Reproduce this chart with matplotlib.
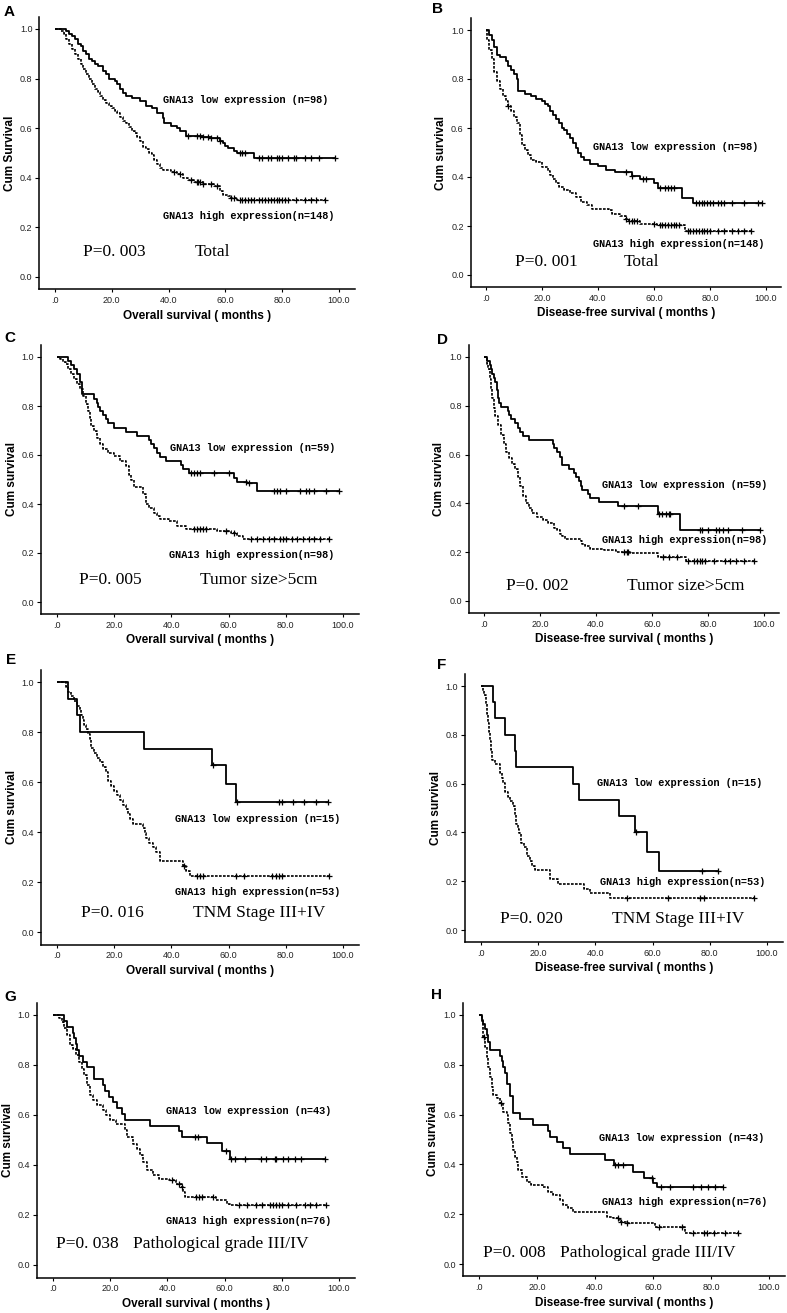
import numpy as np
import matplotlib
matplotlib.use("Agg")
import matplotlib.pyplot as plt

# ---- Kaplan-Meier curves: event times (months),
# survival after each event, and censoring times ----

# A: overall survival, total
A_LOW_T = [4, 5, 6, 7, 8, 9, 10, 11, 12, 13, 14, 15, 17, 18, 19, 21, 22, 23, 24, 25, 27,
           30, 32, 34, 36, 38, 38.5, 41, 43, 44, 46, 52, 55, 58, 59, 60, 61, 63, 64, 70]
A_LOW_S = [0.99, 0.98, 0.97, 0.96, 0.94, 0.93, 0.91, 0.90, 0.88, 0.87, 0.86, 0.85, 0.83, 0.82,
           0.80, 0.79, 0.78, 0.76, 0.74, 0.73, 0.72, 0.71, 0.69, 0.68, 0.66, 0.64, 0.62, 0.61,
           0.60, 0.59, 0.57, 0.565, 0.56, 0.55, 0.54, 0.53, 0.52, 0.51, 0.50, 0.48]
A_LOW_C = [47, 50, 51, 52, 54, 55, 57, 58, 65, 66, 67, 72, 73, 75, 76, 78, 79, 80, 82, 84,
           85, 88, 90, 93, 98.5]
A_HIGH_T = [2, 3, 4, 5, 6, 7, 8, 9, 10, 11, 12, 13, 14, 15, 16, 17, 18, 19, 20, 21, 22, 23,
            24, 25, 26, 27, 28, 29, 30, 31, 32, 33, 34, 35, 36, 37, 38, 41, 43, 45, 47, 49,
            52, 56, 58, 59, 61, 62, 64]
A_HIGH_S = [0.99, 0.98, 0.96, 0.94, 0.92, 0.90, 0.88, 0.86, 0.84, 0.82, 0.80, 0.78, 0.76,
            0.745, 0.73, 0.715, 0.70, 0.69, 0.68, 0.67, 0.66, 0.645, 0.63, 0.62, 0.605, 0.59,
            0.58, 0.565, 0.55, 0.525, 0.515, 0.50, 0.49, 0.47, 0.455, 0.44, 0.43, 0.425,
            0.415, 0.40, 0.39, 0.385, 0.375, 0.365, 0.345, 0.33, 0.325, 0.32, 0.31]
A_HIGH_C = [42, 44, 48, 50, 50.5, 51, 52, 55, 57, 62, 63, 65, 66, 67, 68, 69, 70, 72, 73, 74,
            75, 76, 77, 78, 79, 80, 81, 82, 85, 88, 90, 92, 95]

# B: disease-free survival, total
B_LOW_T = [1, 2, 3, 4, 5, 7, 8, 9, 10, 11, 11.5, 14, 16, 18, 20, 21, 22, 23, 24, 25, 26, 27,
           28, 29, 30, 31, 32, 33, 34, 35, 37, 40, 43, 46, 52, 55, 60, 61.5, 70, 74]
B_LOW_S = [0.98, 0.96, 0.93, 0.90, 0.89, 0.875, 0.855, 0.835, 0.82, 0.80, 0.75, 0.74, 0.73,
           0.72, 0.71, 0.70, 0.69, 0.67, 0.655, 0.635, 0.62, 0.60, 0.59, 0.575, 0.56, 0.54,
           0.52, 0.50, 0.48, 0.47, 0.455, 0.445, 0.43, 0.42, 0.405, 0.39, 0.375, 0.355,
           0.315, 0.295]
B_LOW_C = [50, 52, 56, 57, 62, 64, 65, 66, 67, 75, 76, 77, 78, 79, 80, 81, 83, 84, 85, 88,
           92, 97, 98.5]
B_HIGH_T = [0.5, 1, 2, 3, 4, 5, 6, 7, 8, 9, 10, 11, 12, 13, 14, 15, 16, 18, 20, 22, 23, 24,
            25, 26, 28, 30, 32, 34, 36, 38, 44, 45, 48, 50, 51, 55, 61, 71]
B_HIGH_S = [0.96, 0.92, 0.88, 0.83, 0.79, 0.76, 0.73, 0.71, 0.69, 0.67, 0.645, 0.62, 0.57,
            0.53, 0.51, 0.49, 0.47, 0.46, 0.44, 0.425, 0.41, 0.39, 0.375, 0.36, 0.345, 0.335,
            0.32, 0.30, 0.285, 0.27, 0.265, 0.25, 0.24, 0.23, 0.22, 0.21, 0.205, 0.18]
B_HIGH_C = [8, 50, 51, 52, 53, 54, 60, 62, 63, 64, 65, 66, 67, 68, 69, 72, 73, 74, 75, 76,
            77, 78, 79, 80, 83, 85, 88, 90, 92, 94.5]

# C: overall survival, tumor size > 5 cm
C_LOW_T = [4, 5, 6, 7, 8, 8.7, 8.9, 13, 14, 14.5, 15, 16, 17, 18, 20, 24, 28, 32, 33, 34,
           35, 36, 38, 43.5, 44, 46, 62, 63, 66.5, 70]
C_LOW_S = [0.983, 0.966, 0.949, 0.932, 0.898, 0.864, 0.847, 0.83, 0.813, 0.796, 0.78, 0.763,
           0.746, 0.729, 0.712, 0.695, 0.678, 0.661, 0.644, 0.627, 0.61, 0.593, 0.576, 0.559,
           0.542, 0.525, 0.508, 0.49, 0.485, 0.455]
C_LOW_C = [47, 48, 49, 50, 55, 60, 66, 67, 76, 77, 78, 80, 85, 87, 88, 90, 94, 98.5]
C_HIGH_T = [1, 2, 3, 4, 5, 6, 7, 8, 9, 10, 11, 11.5, 12, 13, 14, 15, 16, 18, 20, 22, 24, 25,
            26, 27, 30, 31, 32, 34, 35, 36, 39, 42, 45, 56, 61, 63, 65]
C_HIGH_S = [0.99, 0.98, 0.97, 0.95, 0.93, 0.91, 0.89, 0.87, 0.84, 0.81, 0.78, 0.75, 0.72,
            0.70, 0.67, 0.645, 0.625, 0.61, 0.595, 0.575, 0.555, 0.52, 0.50, 0.47, 0.44, 0.40,
            0.385, 0.365, 0.35, 0.34, 0.33, 0.31, 0.30, 0.29, 0.28, 0.27, 0.258]
C_HIGH_C = [48, 49, 50, 51, 52, 59, 62, 68, 70, 72, 74, 76, 78, 79, 80, 82, 84, 86, 88, 90,
            92, 95]

# D: disease-free survival, tumor size > 5 cm
D_LOW_T = [1, 2, 2.5, 3, 3.5, 4, 4.5, 5, 5.5, 6, 8.5, 9, 9.5, 11, 12, 13, 14, 16, 24.5, 25,
           26, 27, 28, 30.5, 32, 33, 34, 34.5, 35, 37, 38, 41, 48, 62, 70]
D_LOW_S = [0.983, 0.966, 0.949, 0.932, 0.915, 0.898, 0.864, 0.83, 0.813, 0.796, 0.779, 0.762,
           0.745, 0.728, 0.711, 0.694, 0.677, 0.66, 0.643, 0.626, 0.609, 0.592, 0.558, 0.541,
           0.524, 0.507, 0.49, 0.473, 0.456, 0.439, 0.422, 0.407, 0.39, 0.355, 0.292]
D_LOW_C = [50, 55, 62.5, 63.5, 65, 66, 66.5, 77, 78, 80, 83, 84, 85.5, 87, 92, 98.5]
D_HIGH_T = [1, 1.5, 2, 2.5, 3, 3.5, 4, 5, 6, 7, 8, 9, 10, 11, 12, 13, 14, 15, 16, 17, 19, 21,
            23, 25, 26, 27, 28, 29, 34.5, 35, 36, 38, 43, 47, 52, 62, 72]
D_HIGH_S = [0.97, 0.95, 0.91, 0.87, 0.83, 0.79, 0.76, 0.72, 0.68, 0.645, 0.61, 0.585, 0.56,
            0.54, 0.51, 0.47, 0.43, 0.40, 0.38, 0.36, 0.345, 0.33, 0.32, 0.30, 0.29, 0.275,
            0.265, 0.255, 0.245, 0.235, 0.225, 0.215, 0.21, 0.20, 0.195, 0.18, 0.165]
D_HIGH_C = [50, 51, 51.5, 64, 66, 69, 73, 75, 76, 77, 78, 79, 82, 86, 88, 90, 93, 96.5]

# E: overall survival, TNM stage III+IV
E_LOW_T = [3.8, 7, 8, 30.4, 54.2, 59, 62.5]
E_LOW_S = [0.933, 0.867, 0.80, 0.733, 0.667, 0.593, 0.519]
E_LOW_C = [54.5, 62.8, 77.5, 78.5, 82.5, 86.5, 90.5, 94.8]
E_HIGH_T = [3, 4, 5, 6, 7, 8, 8.5, 9, 9.5, 10, 11, 11.5, 12, 13, 14, 15, 16, 17, 18, 19, 20,
            21, 22, 23, 24, 24.8, 25.5, 26.5, 30, 30.7, 31.2, 32, 33.5, 34.5, 36, 44, 45, 46.5]
E_HIGH_S = [0.981, 0.962, 0.943, 0.925, 0.906, 0.887, 0.868, 0.849, 0.830, 0.811, 0.792,
            0.774, 0.736, 0.717, 0.698, 0.679, 0.660, 0.642, 0.604, 0.585, 0.566, 0.547,
            0.528, 0.509, 0.491, 0.472, 0.453, 0.434, 0.415, 0.396, 0.377, 0.358, 0.340,
            0.321, 0.283, 0.264, 0.245, 0.226]
E_HIGH_C = [44.5, 49, 50, 51, 62.5, 65.5, 75, 76.5, 77.5, 78.5, 95]

# F: disease-free survival, TNM stage III+IV
F_LOW_T = [4.3, 5, 8.4, 11.8, 12.2, 32.3, 34.1, 48.1, 53.9, 58, 62.1]
F_LOW_S = [0.933, 0.867, 0.80, 0.733, 0.667, 0.60, 0.533, 0.467, 0.40, 0.32, 0.24]
F_LOW_C = [54.3, 77.2, 83]
F_HIGH_T = [0.8, 1.2, 1.6, 2, 2.4, 2.8, 3.2, 3.6, 4, 5, 6.5, 7.2, 7.8, 8.4, 9.5, 10.2, 11.2,
            11.8, 12.3, 12.8, 13.3, 14, 15, 16, 17, 18, 19, 24, 27, 36, 38, 45]
F_HIGH_S = [0.981, 0.962, 0.925, 0.887, 0.849, 0.811, 0.774, 0.736, 0.698, 0.679, 0.642,
            0.623, 0.604, 0.566, 0.547, 0.528, 0.509, 0.472, 0.434, 0.415, 0.396, 0.358,
            0.340, 0.302, 0.283, 0.264, 0.245, 0.208, 0.189, 0.170, 0.151, 0.132]
F_HIGH_C = [51, 65.5, 76.5, 78, 95.3]

# G: overall survival, pathological grade III/IV
G_LOW_T = [4, 5, 7, 7.5, 8, 8.5, 9, 10.5, 12, 14.5, 17.5, 18.2, 19.5, 21, 22.5, 24, 25, 34,
           44, 45, 54, 59, 62]
G_LOW_S = [0.977, 0.953, 0.93, 0.907, 0.884, 0.86, 0.837, 0.814, 0.791, 0.744, 0.721, 0.698,
           0.674, 0.651, 0.628, 0.605, 0.581, 0.558, 0.535, 0.512, 0.487, 0.458, 0.425]
G_LOW_C = [49.5, 50.7, 60.6, 62.4, 63.5, 67, 72.8, 74.6, 77.5, 78, 80.4, 82.2, 84.5, 86.8, 95]
G_HIGH_T = [2, 3, 4, 5, 6, 7, 8, 9, 10, 11, 12, 13, 14, 15.5, 17.5, 18.5, 20, 22, 25, 26, 28,
            29.5, 30.5, 31.5, 33, 35, 37, 40.5, 43, 45, 45.5, 46, 57, 61, 62]
G_HIGH_S = [0.987, 0.974, 0.947, 0.92, 0.88, 0.866, 0.84, 0.813, 0.786, 0.76, 0.72, 0.68,
            0.66, 0.64, 0.62, 0.60, 0.58, 0.566, 0.54, 0.513, 0.486, 0.466, 0.44, 0.413, 0.38,
            0.36, 0.346, 0.34, 0.326, 0.312, 0.292, 0.272, 0.259, 0.246, 0.239]
G_HIGH_C = [41.5, 44, 45, 50, 51, 52, 56, 65, 68, 71, 73, 76, 77, 78, 79, 80, 82, 85, 88, 90,
            92, 95.5]

# H: disease-free survival, pathological grade III/IV
H_LOW_T = [0.9, 1.5, 2.1, 2.6, 3.2, 3.8, 7.2, 7.8, 8.4, 9, 9.5, 10.7, 11.8, 14, 18.5, 23.8,
           24.5, 27, 29, 31.5, 43.5, 46.5, 53.2, 57, 60, 61.5]
H_LOW_S = [0.977, 0.963, 0.944, 0.921, 0.893, 0.86, 0.837, 0.814, 0.791, 0.767, 0.721, 0.674,
           0.605, 0.581, 0.558, 0.535, 0.512, 0.488, 0.465, 0.442, 0.419, 0.396, 0.37, 0.345,
           0.325, 0.31]
H_LOW_C = [46.8, 48, 49.7, 59.5, 62.9, 65.8, 73.8, 76.7, 79, 81.3, 84]
H_HIGH_T = [0.9, 1.5, 2.1, 2.6, 3.2, 3.8, 4.4, 4.9, 6.1, 7.2, 8.4, 9.5, 10.1, 10.7, 11.3, 11.8,
            12.4, 13, 13.5, 14.7, 16.4, 18.1, 22.2, 23.9, 25.6, 27.9, 29, 30.8, 32.5, 44, 46.3,
            48.6, 50.9, 60.6, 71]
H_HIGH_S = [0.98, 0.913, 0.873, 0.833, 0.792, 0.752, 0.712, 0.679, 0.665, 0.645, 0.612, 0.598,
            0.565, 0.525, 0.498, 0.458, 0.431, 0.411, 0.378, 0.351, 0.331, 0.317, 0.31, 0.29,
            0.277, 0.257, 0.237, 0.224, 0.21, 0.19, 0.183, 0.17, 0.163, 0.147, 0.123]
H_HIGH_C = [1.8, 7.5, 48, 49, 51, 62, 70, 73.8, 77.5, 78.5, 81, 84.7, 89.3]

LETTERS = ["A", "B", "C", "D", "E", "F", "G", "H"]
N_LOW = [98, 98, 59, 59, 15, 15, 43, 43]
N_HIGH = [148, 148, 98, 98, 53, 53, 76, 76]
P_VALUES = ["0. 003", "0. 001", "0. 005", "0. 002", "0. 016", "0. 020", "0. 038", "0. 008"]
SUBGROUPS = ["Total", "Total", "Tumor size>5cm", "Tumor size>5cm", "TNM Stage III+IV",
             "TNM Stage III+IV", "Pathological grade III/IV", "Pathological grade III/IV"]
XLABELS = ["Overall survival ( months )", "Disease-free survival ( months )"] * 4
YLABELS = ["Cum Survival"] + ["Cum survival"] * 7
XTICKS = [0, 20, 40, 60, 80, 100]
XTICKLABELS = [".0", "20.0", "40.0", "60.0", "80.0", "100.0"]
YTICKS = [0.0, 0.2, 0.4, 0.6, 0.8, 1.0]
YTICKLABELS = ["0.0", "0.2", "0.4", "0.6", "0.8", "1.0"]

CURVES = [
    (A_LOW_T, A_LOW_S, A_LOW_C, A_HIGH_T, A_HIGH_S, A_HIGH_C),
    (B_LOW_T, B_LOW_S, B_LOW_C, B_HIGH_T, B_HIGH_S, B_HIGH_C),
    (C_LOW_T, C_LOW_S, C_LOW_C, C_HIGH_T, C_HIGH_S, C_HIGH_C),
    (D_LOW_T, D_LOW_S, D_LOW_C, D_HIGH_T, D_HIGH_S, D_HIGH_C),
    (E_LOW_T, E_LOW_S, E_LOW_C, E_HIGH_T, E_HIGH_S, E_HIGH_C),
    (F_LOW_T, F_LOW_S, F_LOW_C, F_HIGH_T, F_HIGH_S, F_HIGH_C),
    (G_LOW_T, G_LOW_S, G_LOW_C, G_HIGH_T, G_HIGH_S, G_HIGH_C),
    (H_LOW_T, H_LOW_S, H_LOW_C, H_HIGH_T, H_HIGH_S, H_HIGH_C),
]

# ---- layout (pixels in a 787x1313 canvas): tick positions x=0, x=100, y=1, y=0 ----
W, H = 787, 1313
TICKPX = [(55, 339, 29, 277), (486, 766, 30, 275),
          (57, 343, 357, 602), (484, 764, 357, 601),
          (57, 343, 682, 932), (481, 767, 686, 930),
          (53, 339, 1015, 1265), (479, 769, 1015, 1264)]
LETTER_PX = [(4, 12), (432, 9), (4, 338), (437, 340), (6, 660), (437, 665), (4, 997), (431, 995)]
# label anchors in data coords: (low x, low y, high x, high y, p x, p y, subgroup x)
LABEL_POS = [(38, 0.714, 38, 0.245, 10, 0.10, 49.2),
             (38.3, 0.524, 38.3, 0.126, 10.4, 0.052, 49.3),
             (39.6, 0.629, 39, 0.193, 7.6, 0.088, 50.1),
             (42, 0.476, 42, 0.248, 7.9, 0.062, 51),
             (41.1, 0.451, 41.1, 0.16, 8.5, 0.077, 47.6),
             (40.5, 0.603, 41.7, 0.195, 6.7, 0.044, 45.7),
             (39.6, 0.617, 39.6, 0.176, 1.2, 0.083, 28),
             (41.4, 0.507, 42.3, 0.25, 1.5, 0.046, 27.9)]
XLIM = (-5.5, 105.5)
YLIM = (-0.05, 1.05)

SANS = ["Liberation Sans", "DejaVu Sans"]
MONO = ["Liberation Mono", "DejaVu Sans Mono"]
SERIF = ["Liberation Serif", "DejaVu Serif"]


def step_at(t, s, x):
    i = np.searchsorted(t, x, side="right")
    return 1.0 if i == 0 else s[i - 1]


def draw_km(ax, t, s, cens, ls, lw):
    t = np.asarray(t, float)
    s = np.asarray(s, float)
    end = max(max(cens), t[-1])
    xs = np.concatenate([[0.0], t, [end]])
    ys = np.concatenate([[1.0], s, [s[-1]]])
    ax.step(xs, ys, where="post", color="black", lw=lw, ls=ls, solid_capstyle="butt")
    cy = [step_at(t, s, c) for c in cens]
    ax.plot(cens, cy, ls="none", marker="+", ms=4.5, mew=0.9, color="black")


fig = plt.figure(figsize=(W / 100, H / 100), dpi=100)

for k in range(8):
    x0, x100, y1, y0 = TICKPX[k]
    sx = (x100 - x0) / 100.0
    sy = (y0 - y1)
    left = x0 + XLIM[0] * sx
    right = x0 + XLIM[1] * sx
    top = y0 - YLIM[1] * sy
    bottom = y0 - YLIM[0] * sy
    ax = fig.add_axes([left / W, 1 - bottom / H, (right - left) / W, (bottom - top) / H])
    ax.set_xlim(*XLIM)
    ax.set_ylim(*YLIM)
    for sp in ("top", "right"):
        ax.spines[sp].set_visible(False)
    for sp in ("left", "bottom"):
        ax.spines[sp].set_linewidth(1.1)
    ax.set_xticks(XTICKS)
    ax.set_xticklabels(XTICKLABELS, fontsize=6.5, family=SANS, color="#222222")
    ax.set_yticks(YTICKS)
    ax.set_yticklabels(YTICKLABELS, fontsize=6.5, family=SANS, color="#222222")
    ax.tick_params(axis="y", direction="out", length=3, width=0.8, pad=2)
    ax.tick_params(axis="x", direction="out", length=2, width=0.8, pad=3)

    lt, ls_, lc, ht, hs, hc = CURVES[k]
    draw_km(ax, ht, hs, hc, (0, (1.6, 0.8)), 1.2)
    draw_km(ax, lt, ls_, lc, "-", 1.3)

    lx, ly, hx, hy, px, py, gx = LABEL_POS[k]
    ax.text(lx, ly, f"GNA13 low expression (n={N_LOW[k]})", fontsize=7.4, family=MONO,
            fontweight="bold", va="center", ha="left")
    ax.text(hx, hy, f"GNA13 high expression(n={N_HIGH[k]})", fontsize=7.4, family=MONO,
            fontweight="bold", va="center", ha="left")
    ax.text(px, py, f"P={P_VALUES[k]}", fontsize=12.5, family=SERIF, va="center", ha="left")
    ax.text(gx, py, SUBGROUPS[k], fontsize=12.5, family=SERIF, va="center", ha="left")

    ax.set_xlabel(XLABELS[k], fontsize=8.5, fontweight="bold", family=SANS, labelpad=3)
    ax.set_ylabel(YLABELS[k], fontsize=8.5, fontweight="bold", family=SANS, labelpad=3)

    lxp, lyp = LETTER_PX[k]
    fig.text(lxp / W, 1 - lyp / H, LETTERS[k], fontsize=11, fontweight="bold",
             family=SANS, va="center", ha="left")

fig.savefig("out.png", dpi=100)
